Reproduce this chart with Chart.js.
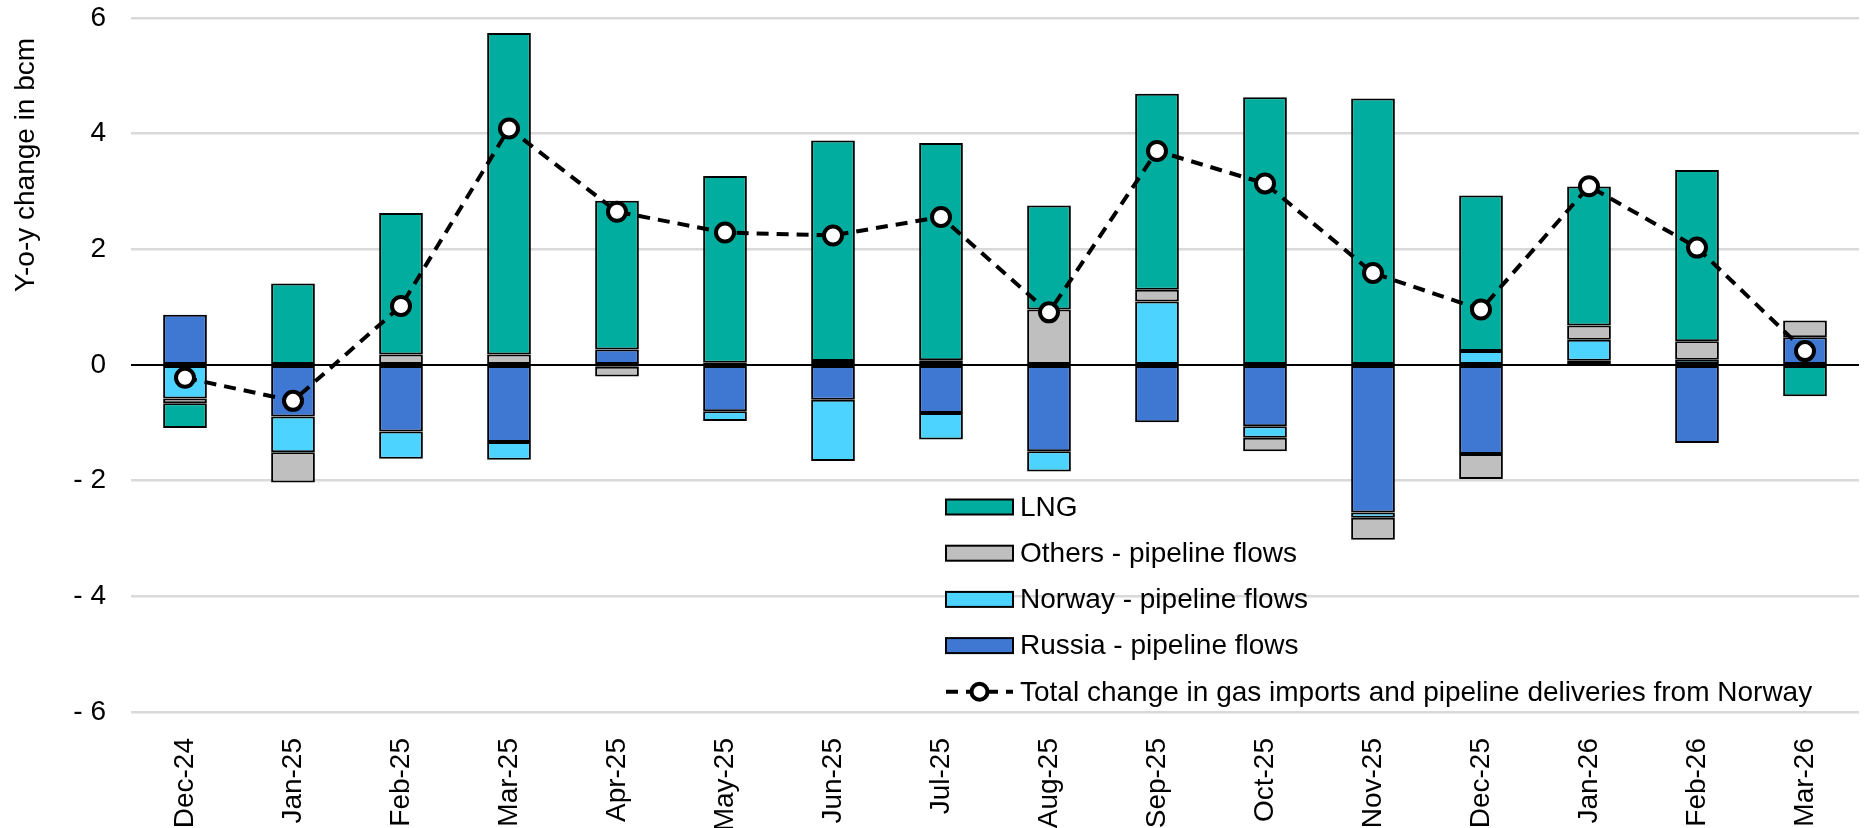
<!DOCTYPE html>
<html>
<head>
<meta charset="utf-8">
<script src="https://cdn.jsdelivr.net/npm/chart.js@4/dist/chart.umd.min.js"></script>
<style>
  html, body { margin: 0; padding: 0; background: #fff; overflow: hidden; }
  canvas { display: block; }
</style>
</head>
<body>
<canvas id="gasChart" width="1872" height="828"></canvas>
<script>
// y-o-y change in bcm, by supply route
const months = ["Dec-24", "Jan-25", "Feb-25", "Mar-25", "Apr-25", "May-25", "Jun-25", "Jul-25",
                "Aug-25", "Sep-25", "Oct-25", "Nov-25", "Dec-25", "Jan-26", "Feb-26", "Mar-26"];
const russia = [0.87, -0.89, -1.15, -1.33, 0.27, -0.80, -0.60, -0.83, -1.49, -0.99, -1.06, -2.55, -1.54, 0.075, -1.35, 0.48];
const norway = [-0.58, -0.62, -0.47, -0.31, -0.03, -0.17, -1.06, -0.46, -0.35, 1.10, -0.20, -0.09, 0.24, 0.36, 0.09, 0];
const others = [-0.08, -0.52, 0.18, 0.18, -0.17, 0.04, 0.07, 0.08, 0.96, 0.20, -0.23, -0.38, -0.43, 0.25, 0.32, 0.29];
const lng    = [-0.43, 1.41, 2.45, 5.56, 2.57, 3.23, 3.81, 3.76, 1.80, 3.39, 4.63, 4.61, 2.69, 2.40, 2.96, -0.54];
const total  = [-0.22, -0.62, 1.02, 4.09, 2.65, 2.29, 2.24, 2.56, 0.91, 3.70, 3.14, 1.59, 0.96, 3.09, 2.03, 0.24];
const yTicks = [-6, -4, -2, 0, 2, 4, 6];

const FONT = "'Liberation Sans', Arial, sans-serif";
const COLORS = { lng: "#00ad9f", others: "#bfbfbf", norway: "#4dd3ff", russia: "#3e78d3" };

const bar = (label, data, color) => ({
  type: "bar", label, data, backgroundColor: color,
  borderColor: "#000", borderWidth: 2, borderSkipped: false,
  categoryPercentage: 1, barPercentage: 0.405, order: 2
});

// legend sits inside the plot, below the zero line
const legendInPlot = {
  id: "legendInPlot",
  afterDraw(chart) {
    const ctx = chart.ctx;
    const ds = chart.data.datasets;
    const rows = [3, 2, 1, 0, 4];   // LNG, Others, Norway, Russia, Total
    const x0 = 946, w = 67, x1 = 1020, top = 507, step = 46.2;
    ctx.save();
    ctx.font = "28px " + FONT;
    ctx.textBaseline = "middle";
    rows.forEach((idx, i) => {
      const y = top + i * step;
      const d = ds[idx];
      if (d.type === "bar") {
        ctx.fillStyle = d.backgroundColor;
        ctx.fillRect(x0, y - 7.5, w, 15);
        ctx.lineWidth = 2;
        ctx.strokeStyle = "#000";
        ctx.strokeRect(x0, y - 7.5, w, 15);
      } else {
        ctx.strokeStyle = "#000";
        ctx.lineWidth = 4;
        ctx.setLineDash([12, 8]);
        ctx.beginPath();
        ctx.moveTo(x0, y);
        ctx.lineTo(x0 + w, y);
        ctx.stroke();
        ctx.setLineDash([]);
        ctx.beginPath();
        ctx.arc(x0 + w / 2, y, 8, 0, Math.PI * 2);
        ctx.fillStyle = "#fff";
        ctx.fill();
        ctx.stroke();
      }
      ctx.fillStyle = "#000";
      ctx.fillText(d.label, x1, y + 1);
    });
    ctx.restore();
  }
};

// axis title drawn by hand, it sits in the upper half of the axis
const yTitle = {
  id: "yTitle",
  afterDraw(chart) {
    const ctx = chart.ctx;
    ctx.save();
    ctx.translate(26, 165);
    ctx.rotate(-Math.PI / 2);
    ctx.font = "28px " + FONT;
    ctx.textAlign = "center";
    ctx.textBaseline = "middle";
    ctx.fillStyle = "#000";
    ctx.fillText("Y-o-y change in bcm", 0, 0);
    ctx.restore();
  }
};

new Chart(document.getElementById("gasChart"), {
  data: {
    labels: months,
    datasets: [
      bar("Russia - pipeline flows", russia, COLORS.russia),
      bar("Norway - pipeline flows", norway, COLORS.norway),
      bar("Others - pipeline flows", others, COLORS.others),
      bar("LNG", lng, COLORS.lng),
      {
        type: "line",
        label: "Total change in gas imports and pipeline deliveries from Norway",
        data: total,
        stack: "total",
        borderColor: "#000",
        borderWidth: 4,
        borderDash: [12, 8],
        pointRadius: 9,
        pointBorderWidth: 4,
        pointBackgroundColor: "#fff",
        pointBorderColor: "#000",
        tension: 0,
        order: 1
      }
    ]
  },
  options: {
    responsive: false,
    animation: false,
    devicePixelRatio: 1,
    layout: { padding: { top: 18, right: 2, left: 0, bottom: 0 } },
    plugins: { legend: { display: false }, tooltip: { enabled: false } },
    scales: {
      x: {
        stacked: true,
        grid: { display: false },
        border: { display: false },
        ticks: {
          autoSkip: false, minRotation: 90, maxRotation: 90, padding: 18,
          color: "#000", font: { family: FONT, size: 28 }
        },
        afterFit(scale) {
          scale.height = 116;
          scale.paddingLeft = 0;
          scale.paddingRight = 0;
        }
      },
      y: {
        stacked: true,
        min: -6, max: 6,
        afterBuildTicks(scale) { scale.ticks = yTicks.map(v => ({ value: v })); },
        grid: {
          drawTicks: false,
          color: c => c.tick && c.tick.value === 0 ? "#000" : "#d9d9d9",
          lineWidth: c => c.tick && c.tick.value === 0 ? 2 : 2.5
        },
        border: { display: false },
        ticks: {
          padding: 25, color: "#000", font: { family: FONT, size: 28 },
          callback: v => v < 0 ? "- " + (-v) : String(v)
        },
        afterFit(scale) {
          scale.width = 131;
          scale.paddingTop = 0;
          scale.paddingBottom = 0;
        }
      }
    }
  },
  plugins: [legendInPlot, yTitle]
});
</script>
</body>
</html>
